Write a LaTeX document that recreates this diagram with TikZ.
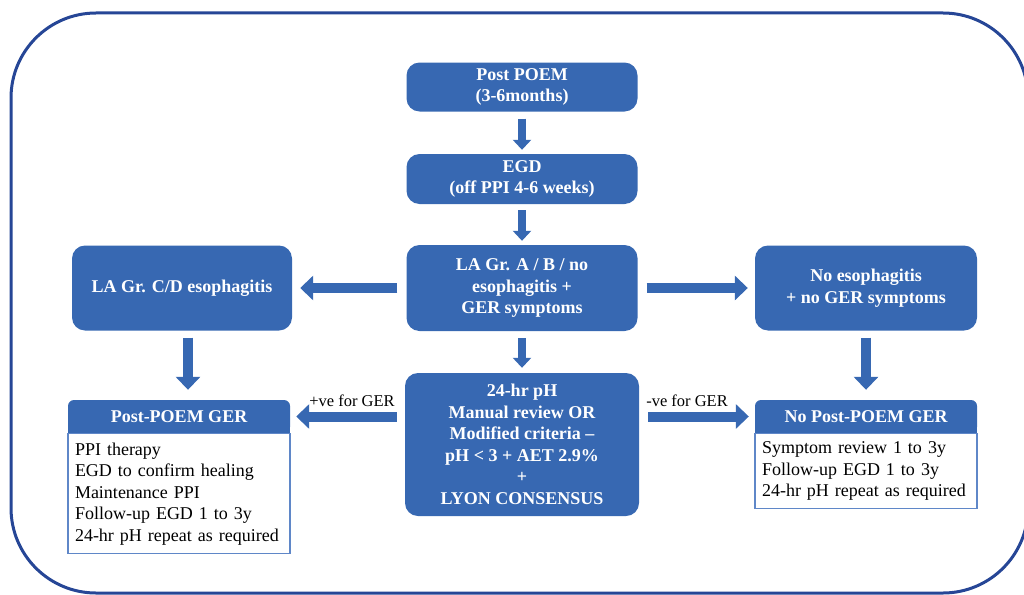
\documentclass[tikz,border=0pt]{standalone}
\usepackage{fontspec}
\setmainfont{Liberation Serif}
\usetikzlibrary{arrows.meta}
\definecolor{boxblue}{RGB}{55,104,178}
\definecolor{framec}{RGB}{38,70,150}
\definecolor{edgeblue}{RGB}{95,135,200}
\begin{document}
\begin{tikzpicture}[x=1pt,y=-1pt,
  bluebox/.style={fill=boxblue, rounded corners=13pt, text=white, font=\bfseries\fontsize{18}{21.5}\selectfont, align=center, inner sep=0pt},
  hdr/.style={fill=boxblue, rounded corners=6pt, text=white, font=\bfseries\fontsize{18}{21.5}\selectfont, inner sep=0pt, minimum width=222pt, minimum height=33pt},
  bodybox/.style={draw=edgeblue, line width=1.2pt, fill=white, font=\fontsize{18}{21.5}\selectfont, align=left, inner xsep=7pt, inner ysep=0pt, text width=208pt, anchor=north},
  fat/.style={draw=boxblue, line width=10pt, -{Triangle[length=13pt,width=24pt]}},
  slim/.style={draw=boxblue, line width=8pt, -{Triangle[length=10pt,width=18pt]}},
  lbl/.style={font=\fontsize{16.5}{19}\selectfont, inner sep=0pt, text=black}]
\useasboundingbox (0,0) rectangle (1024,594);
\draw[framec, line width=3pt, rounded corners=85pt] (11,13) rectangle (1028,593);

\node[bluebox, minimum width=231pt, minimum height=49pt] (pp) at (522,87) {Post POEM\\(3-6months)};
\node[bluebox, minimum width=231pt, minimum height=50pt] (egd) at (522,179) {EGD\\(off PPI 4-6 weeks)};
\node[bluebox, minimum width=231pt, minimum height=86pt] (la) at (522,288) {LA Gr. A / B / no\\esophagitis +\\GER symptoms};
\node[bluebox, minimum width=220pt, minimum height=85pt] (cd) at (182,288) {LA Gr. C/D esophagitis};
\node[bluebox, minimum width=222pt, minimum height=85pt] (ne) at (866,288) {No esophagitis\\+ no GER symptoms};
\node[bluebox, minimum width=234pt, minimum height=143pt] (ph) at (522,444.5) {24-hr pH\\Manual review OR\\Modified criteria --\\pH < 3 + AET 2.9\%\\+\\LYON CONSENSUS};

\node[hdr] (pg) at (179,416.5) {Post-POEM GER};
\fill[boxblue] ([yshift=8pt]pg.south west) rectangle (pg.south east);
\node[bodybox, minimum height=120pt] (pgb) at (pg.south) {PPI therapy\\EGD to confirm healing\\Maintenance PPI\\Follow-up EGD 1 to 3y\\24-hr pH repeat as required};

\node[hdr] (npg) at (866,416.5) {No Post-POEM GER};
\fill[boxblue] ([yshift=8pt]npg.south west) rectangle (npg.south east);
\node[bodybox, minimum height=75pt] (npgb) at (npg.south) {Symptom review 1 to 3y\\Follow-up EGD 1 to 3y\\24-hr pH repeat as required};

\draw[slim] ([yshift=-7pt]pp.south) -- ([yshift=4pt]egd.north);
\draw[slim] ([yshift=-6pt]egd.south) -- ([yshift=4pt]la.north);
\draw[slim] ([yshift=-7pt]la.south) -- ([yshift=5pt]ph.north);
\draw[fat] ([xshift=-9pt]la.west) -- ([xshift=8pt]cd.east);
\draw[fat] ([xshift=9pt]la.east) -- ([xshift=-7pt]ne.west);
\coordinate (cda) at ([xshift=6pt]cd.south);
\draw[fat] ([yshift=-7pt]cda) -- ([yshift=10pt]cda |- pg.north);
\draw[fat] ([yshift=-7pt]ne.south) -- ([yshift=10pt]npg.north);
\draw[fat] ([xshift=-8pt]ph.west |- pg.east) -- ([xshift=6pt]pg.east)
  node[lbl, pos=0.446, yshift=16pt] (pos) {+ve for GER};
\draw[fat] ([xshift=9pt]ph.east |- npg.west) -- ([xshift=-6pt]npg.west)
  node[lbl, pos=0.386, yshift=16pt] (neg) {-ve for GER};
\end{tikzpicture}
\end{document}
